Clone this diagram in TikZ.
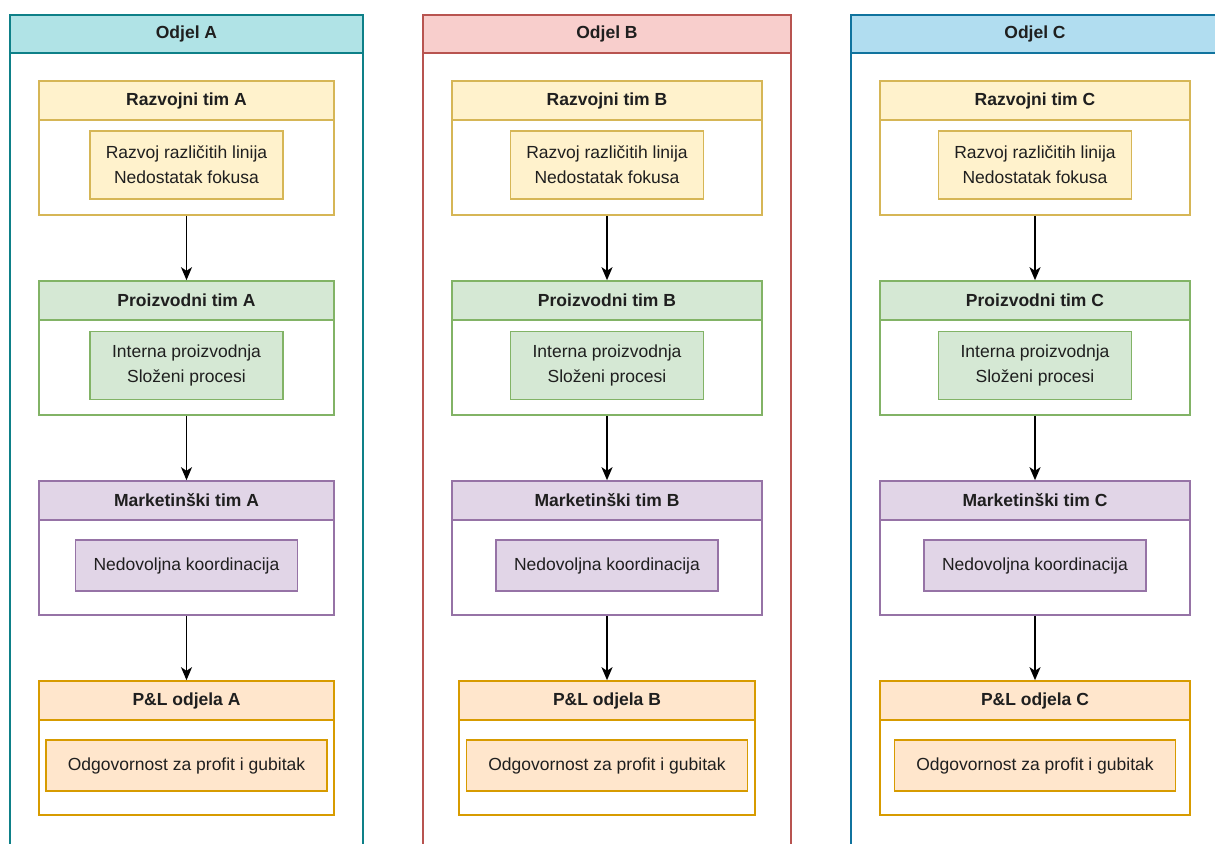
\documentclass[tikz,border=0pt]{standalone}
\usepackage{fontspec}
\setmainfont{Liberation Sans}
\usetikzlibrary{arrows.meta}
\definecolor{tealD}{HTML}{0E8088}\definecolor{tealL}{HTML}{B0E3E6}
\definecolor{redD}{HTML}{B85450}\definecolor{redL}{HTML}{F8CECC}
\definecolor{blueD}{HTML}{10739E}\definecolor{blueL}{HTML}{B1DDF0}
\definecolor{yelD}{HTML}{D6B656}\definecolor{yelL}{HTML}{FFF2CC}
\definecolor{grnD}{HTML}{82B366}\definecolor{grnL}{HTML}{D5E8D4}
\definecolor{purD}{HTML}{9673A6}\definecolor{purL}{HTML}{E1D5E7}
\definecolor{orgD}{HTML}{D79B00}\definecolor{orgL}{HTML}{FFE6CC}
\begin{document}
\begin{tikzpicture}[x=0.5pt,y=-0.5pt,
    every node/.style={font=\fontsize{8.75}{12.5}\selectfont, text=black!88},
    lane/.style={draw, line width=0.85pt, fill=white, inner sep=0, minimum height=427.5pt},
    lanehead/.style={draw, line width=0.85pt, inner sep=0, minimum height=19pt, anchor=north, font=\fontsize{8.75}{12.5}\selectfont\bfseries},
    team/.style={draw, line width=0.8pt, fill=white, inner sep=0, minimum height=67pt},
    teamhead/.style={draw, line width=0.8pt, inner sep=0, minimum height=19.5pt, anchor=north, font=\fontsize{8.75}{12.5}\selectfont\bfseries},
    note/.style={draw, line width=0.8pt, inner sep=0, align=center},
    flow/.style={-{Stealth[length=6.5pt,width=5.5pt,inset=1.8pt]}, line width=0.8pt},
    teal/.style={draw=tealD, fill=tealL}, red/.style={draw=redD, fill=redL},
    blue/.style={draw=blueD, fill=blueL}, yel/.style={draw=yelD, fill=yelL},
    grn/.style={draw=grnD, fill=grnL}, pur/.style={draw=purD, fill=purL},
    org/.style={draw=orgD, fill=orgL}]
\clip (0,0) rectangle (1215,844);

% Odjel A
\node[lane, draw=tealD, minimum width=176.5pt] (odjelA) at (186.5,442.5) {};
\node[lanehead, teal, minimum width=176.5pt] (odjelAh) at (odjelA.north) {Odjel A};
\node[team, draw=yelD, minimum width=147.5pt] (razA) at (186.5,148) {};
\node[teamhead, yel, minimum width=147.5pt] (razAh) at (razA.north) {Razvojni tim A};
\node[note, yel, minimum width=96.5pt, minimum height=34pt] (razAt) at (186.5,165) {Razvoj različitih linija\\Nedostatak fokusa};
\node[team, draw=grnD, minimum width=147.5pt] (proA) at (186.5,348) {};
\node[teamhead, grn, minimum width=147.5pt] (proAh) at (proA.north) {Proizvodni tim A};
\node[note, grn, minimum width=96.5pt, minimum height=34pt] (proAt) at (186.5,365.5) {Interna proizvodnja\\Složeni procesi};
\node[team, draw=purD, minimum width=147.5pt] (marA) at (186.5,548) {};
\node[teamhead, pur, minimum width=147.5pt] (marAh) at (marA.north) {Marketinški tim A};
\node[note, pur, minimum width=111pt, minimum height=25.5pt] (marAt) at (186.5,565.5) {Nedovoljna koordinacija};
\node[team, draw=orgD, minimum width=147.5pt] (plA) at (186.5,748) {};
\node[teamhead, org, minimum width=147.5pt] (plAh) at (plA.north) {P\&L odjela A};
\node[note, org, minimum width=140.5pt, minimum height=25.5pt] (plAt) at (186.5,765.5) {Odgovornost za profit i gubitak};
\draw[flow] (razA) -- (proAh);
\draw[flow] (proA) -- (marAh);
\draw[flow] (marA) -- (plAh);

% Odjel B
\node[lane, draw=redD, minimum width=184pt] (odjelB) at (607,442.5) {};
\node[lanehead, red, minimum width=184pt] (odjelBh) at (odjelB.north) {Odjel B};
\node[team, draw=yelD, minimum width=155pt] (razB) at (607,148) {};
\node[teamhead, yel, minimum width=155pt] (razBh) at (razB.north) {Razvojni tim B};
\node[note, yel, minimum width=96.5pt, minimum height=34pt] (razBt) at (607,165) {Razvoj različitih linija\\Nedostatak fokusa};
\node[team, draw=grnD, minimum width=155pt] (proB) at (607,348) {};
\node[teamhead, grn, minimum width=155pt] (proBh) at (proB.north) {Proizvodni tim B};
\node[note, grn, minimum width=96.5pt, minimum height=34pt] (proBt) at (607,365.5) {Interna proizvodnja\\Složeni procesi};
\node[team, draw=purD, minimum width=155pt] (marB) at (607,548) {};
\node[teamhead, pur, minimum width=155pt] (marBh) at (marB.north) {Marketinški tim B};
\node[note, pur, minimum width=111pt, minimum height=25.5pt] (marBt) at (607,565.5) {Nedovoljna koordinacija};
\node[team, draw=orgD, minimum width=148pt] (plB) at (607,748) {};
\node[teamhead, org, minimum width=148pt] (plBh) at (plB.north) {P\&L odjela B};
\node[note, org, minimum width=140.5pt, minimum height=25.5pt] (plBt) at (607,765.5) {Odgovornost za profit i gubitak};
\draw[flow] (razB) -- (proBh);
\draw[flow] (proB) -- (marBh);
\draw[flow] (marB) -- (plBh);

% Odjel C
\node[lane, draw=blueD, minimum width=184pt] (odjelC) at (1035,442.5) {};
\node[lanehead, blue, minimum width=184pt] (odjelCh) at (odjelC.north) {Odjel C};
\node[team, draw=yelD, minimum width=155pt] (razC) at (1035,148) {};
\node[teamhead, yel, minimum width=155pt] (razCh) at (razC.north) {Razvojni tim C};
\node[note, yel, minimum width=96.5pt, minimum height=34pt] (razCt) at (1035,165) {Razvoj različitih linija\\Nedostatak fokusa};
\node[team, draw=grnD, minimum width=155pt] (proC) at (1035,348) {};
\node[teamhead, grn, minimum width=155pt] (proCh) at (proC.north) {Proizvodni tim C};
\node[note, grn, minimum width=96.5pt, minimum height=34pt] (proCt) at (1035,365.5) {Interna proizvodnja\\Složeni procesi};
\node[team, draw=purD, minimum width=155pt] (marC) at (1035,548) {};
\node[teamhead, pur, minimum width=155pt] (marCh) at (marC.north) {Marketinški tim C};
\node[note, pur, minimum width=111pt, minimum height=25.5pt] (marCt) at (1035,565.5) {Nedovoljna koordinacija};
\node[team, draw=orgD, minimum width=155pt] (plC) at (1035,748) {};
\node[teamhead, org, minimum width=155pt] (plCh) at (plC.north) {P\&L odjela C};
\node[note, org, minimum width=140.5pt, minimum height=25.5pt] (plCt) at (1035,765.5) {Odgovornost za profit i gubitak};
\draw[flow] (razC) -- (proCh);
\draw[flow] (proC) -- (marCh);
\draw[flow] (marC) -- (plCh);
\end{tikzpicture}
\end{document}
